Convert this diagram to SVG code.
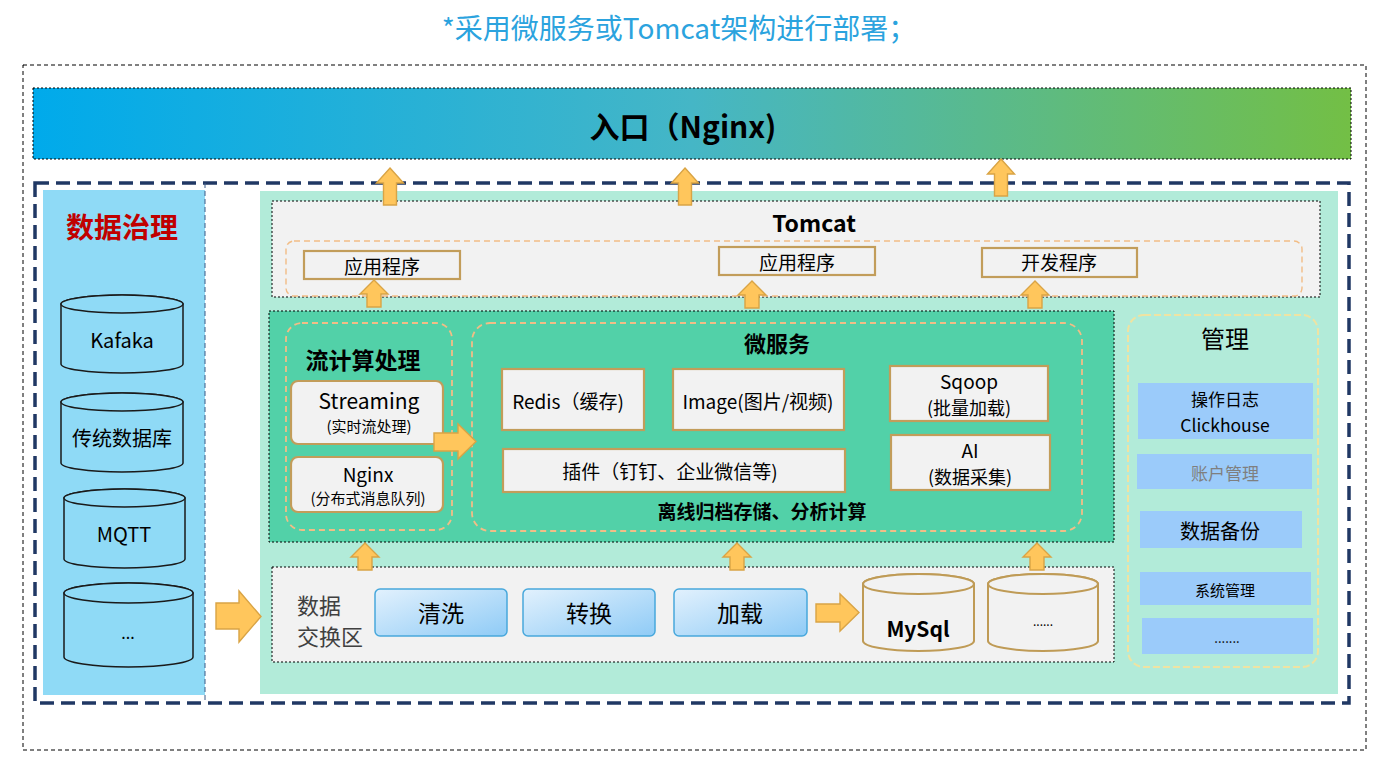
<svg xmlns="http://www.w3.org/2000/svg" width="1387" height="760" viewBox="0 0 1387 760">
<defs>
<linearGradient id="hdr" x1="0" y1="0" x2="1" y2="0">
<stop offset="0" stop-color="#00AAEB"/>
<stop offset="0.5" stop-color="#45B6C6"/>
<stop offset="1" stop-color="#73BF45"/>
</linearGradient>
<linearGradient id="bluebtn" x1="0" y1="0" x2="1" y2="1">
<stop offset="0" stop-color="#E2F1FD"/>
<stop offset="1" stop-color="#8FCBF6"/>
</linearGradient>
<path id="upBig" d="M0,0 L13.5,15 L6.5,15 L6.5,37 L-6.5,37 L-6.5,15 L-13.5,15 Z"/>
<path id="upSm" d="M0,0 L14,14 L7,14 L7,27 L-7,27 L-7,14 L-14,14 Z"/>
<style>
.t{font-family:"Noto Sans CJK SC","Noto Sans",sans-serif;text-anchor:middle;dominant-baseline:central;fill:#000}
.b{font-weight:bold}
.dot{stroke:#000;stroke-width:1;stroke-dasharray:2 2}
.gray{fill:#F2F2F2}
.tan{fill:#F2F2F2;stroke:#C29D5A;stroke-width:2.2}
.odash{fill:none;stroke:#F2BD86;stroke-width:1.8;stroke-dasharray:6 4}
.arrow{fill:#FFC65C;stroke:#D9A445;stroke-width:1.4}
.cylL{fill:#8FDAF6;stroke:#1A1A1A;stroke-width:1.5}
.cylT{fill:#F2F2F2;stroke:#BF9B56;stroke-width:2}
.mg{fill:#9BCBFA}
.bb{fill:url(#bluebtn);stroke:#48A8DC;stroke-width:1.5}
</style>
</defs>

<rect width="1387" height="760" fill="#FFFFFF"/>

<text class="t" x="679" y="27" font-size="28" style="fill:#2BA3DE">*采用微服务或Tomcat架构进行部署；</text>

<rect x="23" y="65" width="1343" height="685" fill="none" stroke="#000" stroke-width="1" stroke-dasharray="4 3"/>

<g id="entry">
<rect x="33" y="88" width="1318" height="71" fill="url(#hdr)" class="dot"/>
<text class="t b" x="683" y="125" font-size="30">入口（Nginx)</text>
</g>

<g id="governance">
<rect x="43" y="190" width="162" height="505" fill="#8FDAF6"/>
<text class="t b" x="122" y="226" font-size="28" style="fill:#C00000">数据治理</text>
</g>

<rect x="260" y="191" width="1078" height="503" fill="#B2EBD9"/>

<g id="kafaka">
<path class="cylL" d="M61,304 L61,364 A61,9 0 0 0 183,364 L183,304 A61,9 0 0 0 61,304 Z"/>
<ellipse class="cylL" cx="122" cy="304" rx="61" ry="9"/>
<text class="t" x="122" y="339" font-size="20">Kafaka</text>
</g>
<g id="traditional-db">
<path class="cylL" d="M61,402 L61,463 A61,9 0 0 0 183,463 L183,402 A61,9 0 0 0 61,402 Z"/>
<ellipse class="cylL" cx="122" cy="402" rx="61" ry="9"/>
<text class="t" x="122" y="437" font-size="20">传统数据库</text>
</g>
<g id="mqtt">
<path class="cylL" d="M64,498 L64,559 A60.5,9 0 0 0 185,559 L185,498 A60.5,9 0 0 0 64,498 Z"/>
<ellipse class="cylL" cx="124.5" cy="498" rx="60.5" ry="9"/>
<text class="t" x="124" y="533" font-size="20">MQTT</text>
</g>
<g id="more-sources">
<path class="cylL" d="M64,593 L64,657 A64.5,10 0 0 0 193,657 L193,593 A64.5,10 0 0 0 64,593 Z"/>
<ellipse class="cylL" cx="128.5" cy="593" rx="64.5" ry="10"/>
<text class="t" x="128" y="632" font-size="16">...</text>
</g>

<g id="tomcat">
<rect x="272" y="201" width="1048" height="96" class="gray dot"/>
<text class="t b" x="814" y="222" font-size="23">Tomcat</text>
<rect x="286" y="241" width="1016" height="55" rx="8" class="odash" style="stroke-width:1.4"/>
</g>
<g id="app1">
<rect x="304" y="251" width="156" height="28" class="tan"/>
<text class="t" x="382" y="265" font-size="19">应用程序</text>
</g>
<g id="app2">
<rect x="719" y="247" width="156" height="28" class="tan"/>
<text class="t" x="797" y="261" font-size="19">应用程序</text>
</g>
<g id="devapp">
<rect x="982" y="248" width="155" height="29" class="tan"/>
<text class="t" x="1059" y="261" font-size="19">开发程序</text>
</g>

<g id="micro-panel">
<rect x="269" y="311" width="845" height="231" fill="#52D1A8" class="dot"/>
</g>
<g id="stream">
<rect x="286" y="323" width="166" height="207" rx="16" class="odash"/>
<text class="t b" x="363" y="359" font-size="23">流计算处理</text>
</g>
<g id="streaming">
<rect x="291" y="381" width="152" height="63" rx="7" class="tan"/>
<text class="t" x="369" y="400" font-size="21">Streaming</text>
<text class="t" x="369" y="425" font-size="15">(实时流处理)</text>
</g>
<g id="nginx-mq">
<rect x="291" y="457" width="152" height="55" rx="7" class="tan"/>
<text class="t" x="368" y="473" font-size="19">Nginx</text>
<text class="t" x="368" y="497.5" font-size="15">(分布式消息队列)</text>
</g>
<g id="microservice">
<rect x="472" y="323" width="610" height="208" rx="18" class="odash"/>
<text class="t b" x="777" y="342" font-size="22">微服务</text>
<text class="t b" x="762" y="510" font-size="19">离线归档存储、分析计算</text>
</g>
<g id="redis">
<rect x="502" y="369" width="142" height="61" class="tan"/>
<text class="t" x="568" y="400" font-size="19">Redis（缓存)</text>
</g>
<g id="image">
<rect x="673" y="369" width="171" height="61" class="tan"/>
<text class="t" x="758" y="400" font-size="19">Image(图片/视频)</text>
</g>
<g id="plugin">
<rect x="503" y="449" width="342" height="43" class="tan"/>
<text class="t" x="670" y="470" font-size="19">插件（钉钉、企业微信等)</text>
</g>
<g id="sqoop">
<rect x="890" y="366" width="158" height="55" class="tan"/>
<text class="t" x="969" y="380" font-size="19">Sqoop</text>
<text class="t" x="969" y="407" font-size="18">(批量加载)</text>
</g>
<g id="ai">
<rect x="891" y="435" width="159" height="55" class="tan"/>
<text class="t" x="970" y="449" font-size="19">AI</text>
<text class="t" x="970" y="476" font-size="18">(数据采集)</text>
</g>

<g id="exchange">
<rect x="272" y="567" width="842" height="95" class="gray dot"/>
<text class="t" x="297" y="603.5" font-size="22" style="text-anchor:start;fill:#404040">数据</text>
<text class="t" x="297" y="635" font-size="22" style="text-anchor:start;fill:#404040">交换区</text>
</g>
<g id="clean">
<rect x="375" y="589" width="132" height="47" rx="5" class="bb"/>
<text class="t" x="441" y="612" font-size="23">清洗</text>
</g>
<g id="convert">
<rect x="523" y="589" width="132" height="47" rx="5" class="bb"/>
<text class="t" x="589" y="612" font-size="23">转换</text>
</g>
<g id="load">
<rect x="674" y="589" width="133" height="47" rx="5" class="bb"/>
<text class="t" x="740" y="612" font-size="23">加载</text>
</g>
<g id="mysql">
<path class="cylT" d="M863,584 L863,641 A55.5,10 0 0 0 974,641 L974,584 A55.5,10 0 0 0 863,584 Z"/>
<ellipse class="cylT" cx="918.5" cy="584" rx="55.5" ry="10"/>
<text class="t b" x="918" y="628" font-size="21">MySql</text>
</g>
<g id="more-db">
<path class="cylT" d="M988,584 L988,641 A55,10 0 0 0 1098,641 L1098,584 A55,10 0 0 0 988,584 Z"/>
<ellipse class="cylT" cx="1043" cy="584" rx="55" ry="10"/>
<text class="t" x="1043" y="620" font-size="12">......</text>
</g>

<g id="management">
<rect x="1128" y="315" width="190" height="352" rx="16" fill="none" stroke="#EFE3A2" stroke-width="2" stroke-dasharray="7 3"/>
<text class="t" x="1225" y="337" font-size="24">管理</text>
</g>
<g id="oplog">
<rect x="1138" y="383" width="175" height="56" class="mg"/>
<text class="t" x="1225" y="398.5" font-size="17">操作日志</text>
<text class="t" x="1225" y="424" font-size="17.5">Clickhouse</text>
</g>
<g id="account">
<rect x="1137" y="454" width="175" height="35" class="mg"/>
<text class="t" x="1225" y="472" font-size="17" style="fill:#7F7F7F">账户管理</text>
</g>
<g id="backup">
<rect x="1140" y="511" width="162" height="37" class="mg"/>
<text class="t" x="1220" y="530" font-size="20">数据备份</text>
</g>
<g id="sysmgmt">
<rect x="1140" y="572" width="171" height="33" class="mg"/>
<text class="t" x="1225" y="589" font-size="15">系统管理</text>
</g>
<g id="mgmt-more">
<rect x="1142" y="618" width="171" height="36" class="mg"/>
<text class="t" x="1227" y="637" font-size="13">.......</text>
</g>

<rect x="35" y="183" width="1314" height="520" fill="none" stroke="#203864" stroke-width="3.5" stroke-dasharray="14 7"/>
<line x1="205" y1="183" x2="205" y2="703" stroke="#3A5A86" stroke-width="1" stroke-dasharray="5 3"/>

<g id="connectors">
<use href="#upBig" class="arrow" x="390" y="168"/>
<use href="#upBig" class="arrow" x="685" y="168"/>
<use href="#upBig" class="arrow" x="1001" y="159"/>
<use href="#upSm" class="arrow" x="374" y="280"/>
<use href="#upSm" class="arrow" x="752" y="281"/>
<use href="#upSm" class="arrow" x="1035" y="281"/>
<use href="#upSm" class="arrow" x="365" y="543"/>
<use href="#upSm" class="arrow" x="737" y="543"/>
<use href="#upSm" class="arrow" x="1037" y="543"/>
<path class="arrow" d="M216,603 L239,603 L239,591 L261,616.5 L239,642 L239,629 L216,629 Z"/>
<path class="arrow" d="M434,433 L458,433 L458,424 L476,441.5 L458,459 L458,451 L434,451 Z"/>
<path class="arrow" d="M816,604 L840,604 L840,594 L859,612.5 L840,631 L840,622 L816,622 Z"/>
</g>
</svg>
